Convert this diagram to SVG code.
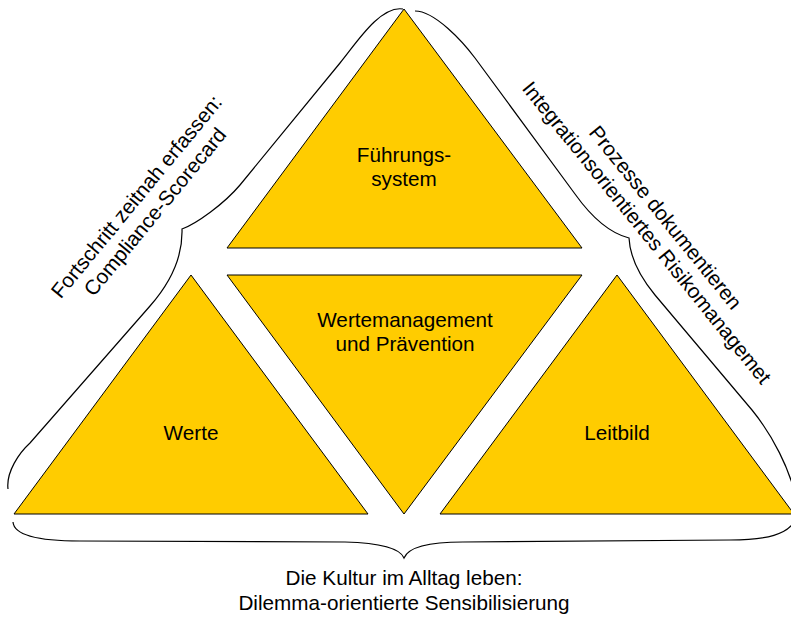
<svg xmlns="http://www.w3.org/2000/svg" width="791" height="617" viewBox="0 0 791 617">
  <style>
    .tri { fill: #FFCC00; stroke: #000000; stroke-width: 1; stroke-linejoin: miter; }
    .brace { fill: none; stroke: #000000; stroke-width: 1.2; }
    .lbl { font-family: "Liberation Sans", Arial, sans-serif; font-size: 20.7px; fill: #000000; text-anchor: middle; }
  </style>
  <rect width="791" height="617" fill="#FFFFFF"/>

  <!-- curly braces framing the pyramid -->
  <g id="connectors">
    <path class="brace" d="M8,489 C6,472 19,453 30,443 L150,306 C165,289 183,262 182,229 C196,224 224,204 240,185 L340,63 C355,45 380,5 403,9"/>
    <path class="brace" d="M415,11 C435,11 463,42 475,58 L575,194 C585,208 605,232 629,238 C630,258 641,278 655,295 L752,410 C770,432 792,470 797,505"/>
    <path class="brace" d="M13,522 C14,536 40,541 80,541 L345,542 C380,543 400,548 404,558 C408,548 428,542 463,542 L730,540 C765,540 790,535 796,518"/>
  </g>

  <g id="fuehrungssystem">
    <polygon class="tri" points="404,9 227,248 582,248"/>
    <text class="lbl" x="404" y="162">Führungs-<tspan x="404" dy="24">system</tspan></text>
  </g>

  <g id="wertemanagement">
    <polygon class="tri" points="227,275 582,275 404,514"/>
    <text class="lbl" x="405" y="327">Wertemanagement<tspan x="405" dy="24">und Prävention</tspan></text>
  </g>

  <g id="werte">
    <polygon class="tri" points="191,275 14,514 368,514"/>
    <text class="lbl" x="191" y="440">Werte</text>
  </g>

  <g id="leitbild">
    <polygon class="tri" points="617,275 440,514 794,514"/>
    <text class="lbl" x="617" y="440">Leitbild</text>
  </g>

  <g id="label-left">
    <text class="lbl" transform="translate(142,201) rotate(-50.5)">Fortschritt zeitnah erfassen:<tspan x="0" dy="24">Compliance-Scorecard</tspan></text>
  </g>

  <g id="label-right">
    <text class="lbl" transform="translate(660,222) rotate(51)">Prozesse dokumentieren<tspan x="0" dy="24">Integrationsorientiertes Risikomanagemet</tspan></text>
  </g>

  <g id="label-bottom">
    <text class="lbl" x="404" y="585">Die Kultur im Alltag leben:<tspan x="404" dy="25">Dilemma-orientierte Sensibilisierung</tspan></text>
  </g>
</svg>
